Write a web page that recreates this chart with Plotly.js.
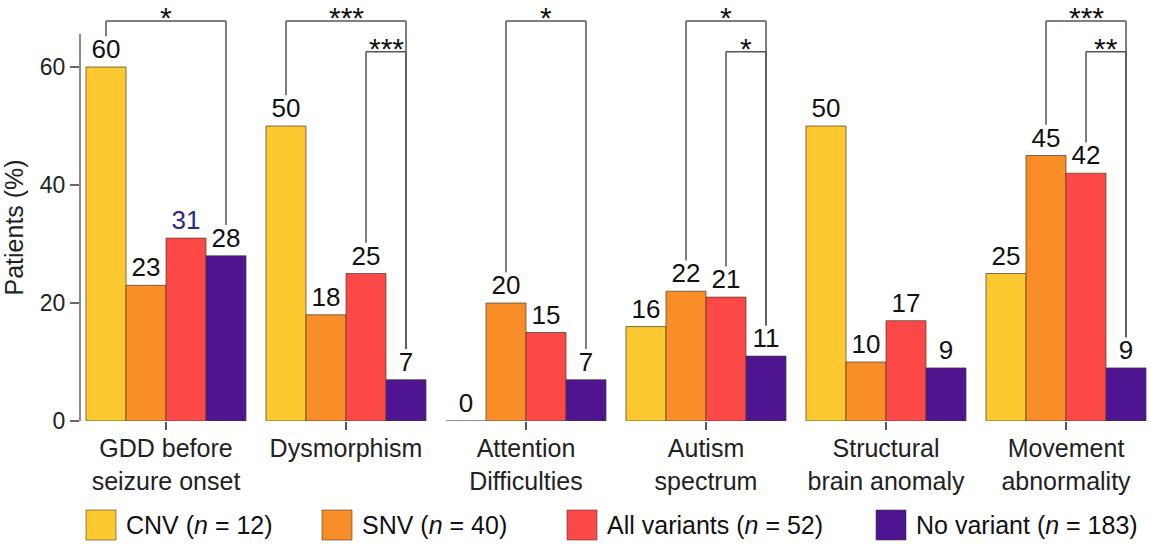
<!DOCTYPE html>
<html>
<head>
<meta charset="utf-8">
<script src="https://cdn.plot.ly/plotly-3.0.1.min.js"></script>
<style>html,body{margin:0;padding:0;background:#fff;}#chart{width:1150px;height:544px;}</style>
</head>
<body>
<div id="chart"></div>
<script>
// ---- data ----
var categories = ['GDD before<br>seizure onset', 'Dysmorphism', 'Attention<br>Difficulties', 'Autism<br>spectrum', 'Structural<br>brain anomaly', 'Movement<br>abnormality'];
var seriesNames = ['CNV (<i>n</i> = 12)', 'SNV (<i>n</i> = 40)', 'All variants (<i>n</i> = 52)', 'No variant (<i>n</i> = 183)'];
var cnv = [60, 50, 0, 16, 50, 25];
var snv = [23, 18, 20, 22, 10, 45];
var allVariants = [31, 25, 15, 21, 17, 42];
var noVariant = [28, 7, 7, 11, 9, 9];
var yTicks = [0, 20, 40, 60];
// significance comparisons: category index, series a, series b, bracket level, label
var sigGroup = [0, 1, 1, 2, 3, 3, 5, 5];
var sigA = [0, 0, 2, 1, 1, 2, 1, 2];
var sigB = [3, 3, 3, 3, 3, 3, 3, 3];
var sigLevel = [0, 0, 1, 0, 0, 1, 0, 1];
var sigLabel = ['*', '***', '***', '*', '*', '*', '***', '**'];
var bracketTop = [67.8, 62.6];

(function draw() {
  var colors = ['#FDC931', '#F98D28', '#FD4848', '#4F1591'];
  var FONT = 'Liberation Sans, Arial, Helvetica, sans-serif';
  var series = [cnv, snv, allVariants, noVariant];
  var bargap = 0.111;
  var legGap = 5.2;
  var ML = 80, MR = 0, MT = 8, MB = 123;
  var W = 1150, H = 544;
  var pw = W - ML - MR, ph = H - MT - MB;
  function pxX(px) { return (px - ML) / pw; }
  function pxY(py) { return (H - MB - py) / ph; }
  function labelColor(i, j) { return (i === 2 && j === 0) ? '#2e2a8c' : '#111'; }

  var traces = series.map(function(vals, i) {
    return {
      type: 'bar', x: categories, y: vals, name: seriesNames[i],
      marker: {color: colors[i], line: {color: 'rgba(70,60,45,0.7)', width: 1}},
      text: vals.map(function(v){ return String(v); }), textposition: 'outside', cliponaxis: false,
      textfont: {family: FONT, size: 26, color: vals.map(function(v, j){ return labelColor(i, j); })},
      hoverinfo: 'none', showlegend: false
    };
  });

  var shapes = [];
  var annotations = [];
  var barW = (1 - bargap) / 4;
  function barCenter(g, s) { return g + (s - 1.5) * barW; }
  function ls() { return {color: '#555', width: 1.5}; }

  for (var k = 0; k < sigGroup.length; k++) {
    var g = sigGroup[k];
    var xa = barCenter(g, sigA[k]), xb = barCenter(g, sigB[k]);
    var yTop = bracketTop[sigLevel[k]];
    var ya = series[sigA[k]][g] + legGap, yb = series[sigB[k]][g] + legGap;
    shapes.push({type: 'line', xref: 'x', yref: 'y', x0: xa, x1: xa, y0: ya, y1: yTop, line: ls()});
    shapes.push({type: 'line', xref: 'x', yref: 'y', x0: xa, x1: xb, y0: yTop, y1: yTop, line: ls()});
    shapes.push({type: 'line', xref: 'x', yref: 'y', x0: xb, x1: xb, y0: yTop, y1: yb, line: ls()});
    annotations.push({xref: 'x', yref: 'y', x: (xa + xb) / 2, y: yTop, text: sigLabel[k], showarrow: false,
      xanchor: 'center', yanchor: 'bottom', yshift: -14, borderpad: 0, font: {family: FONT, size: 30, color: '#111'}});
  }

  // y axis line (stops at top of value range)
  shapes.push({type: 'line', xref: 'paper', yref: 'y', x0: 0, x1: 0, y0: 0, y1: 65.6, line: {color: '#666', width: 1.5}});

  // y title
  annotations.push({xref: 'paper', yref: 'y', x: pxX(14), y: 32.8, text: 'Patients (%)', textangle: -90,
    showarrow: false, xanchor: 'center', yanchor: 'middle', font: {family: FONT, size: 25, color: '#222'}});

  // custom legend
  var legBoxX = [86, 322, 567, 876];
  for (var i = 0; i < 4; i++) {
    shapes.push({type: 'rect', xref: 'paper', yref: 'paper', x0: pxX(legBoxX[i]), x1: pxX(legBoxX[i] + 30),
      y0: pxY(540), y1: pxY(510), fillcolor: colors[i], line: {color: 'rgba(70,60,45,0.6)', width: 1}});
    annotations.push({xref: 'paper', yref: 'paper', x: pxX(legBoxX[i] + 38), y: pxY(525), text: seriesNames[i],
      showarrow: false, xanchor: 'left', yanchor: 'middle', font: {family: FONT, size: 25, color: '#111'}});
  }

  var x0r = -0.5 + 4 / 180;
  var layout = {
    width: W, height: H, margin: {l: ML, r: MR, t: MT, b: MB, pad: 0},
    paper_bgcolor: '#fff', plot_bgcolor: '#fff',
    barmode: 'group', bargap: bargap, bargroupgap: 0,
    showlegend: false,
    font: {family: FONT, color: '#222'},
    xaxis: {type: 'category', range: [x0r, x0r + pw / 180], autorange: false, showline: false, showgrid: false,
      zeroline: false, ticks: 'outside', ticklen: 8, tickwidth: 1.2, tickcolor: '#555', automargin: false,
      ticklabelstandoff: -3, tickfont: {family: FONT, size: 25, color: '#222'}},
    yaxis: {range: [0, 70], autorange: false, tickmode: 'array', tickvals: yTicks, showline: false, showgrid: false,
      zeroline: false, ticks: 'outside', ticklen: 9, tickwidth: 1.2, tickcolor: '#666', automargin: false,
      tickfont: {family: FONT, size: 23, color: '#222'}},
    shapes: shapes,
    annotations: annotations
  };

  Plotly.newPlot('chart', traces, layout, {displayModeBar: false, staticPlot: true});
})();
</script>
</body>
</html>
